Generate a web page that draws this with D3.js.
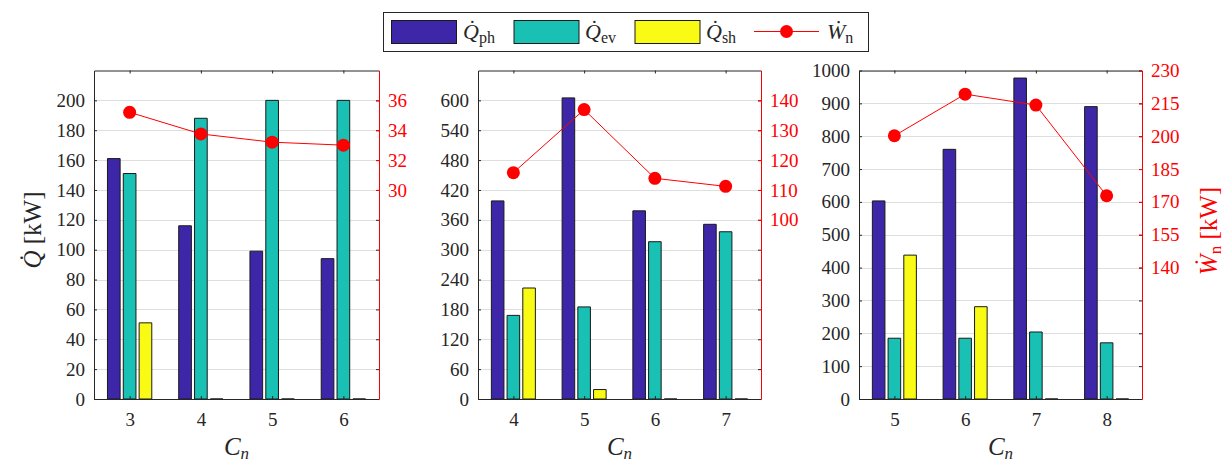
<!DOCTYPE html>
<html><head><meta charset="utf-8">
<script src="https://cdn.jsdelivr.net/npm/d3@7"></script>
<style>
body{margin:0;background:#fff}
svg text{font-family:"Liberation Serif","Times New Roman",Times,"DejaVu Serif","Noto Serif",serif !important}
</style>
</head><body>
<svg id="c" width="1226" height="463"></svg>
<script>
// ---------- data ----------
const cats1 = [3, 4, 5, 6];
const cats2 = [4, 5, 6, 7];
const cats3 = [5, 6, 7, 8];

const qph1 = [161, 116, 99, 94];
const qev1 = [151, 188, 200, 200];
const qsh1 = [51, 0, 0, 0];
const wn1  = [35.2, 33.75, 33.2, 33.0];

const qph2 = [398, 605, 378, 351];
const qev2 = [168, 185, 316, 336];
const qsh2 = [223, 19, 0, 0];
const wn2  = [115.8, 136.9, 113.9, 111.2];

const qph3 = [603, 760, 977, 890];
const qev3 = [185, 185, 204, 171];
const qsh3 = [438, 281, 0, 0];
const wn3  = [200.2, 219.2, 214.2, 172.8];

const leftTicks1  = [0, 20, 40, 60, 80, 100, 120, 140, 160, 180, 200];
const rightTicks1 = [30, 32, 34, 36];
const leftTicks2  = [0, 60, 120, 180, 240, 300, 360, 420, 480, 540, 600];
const rightTicks2 = [100, 110, 120, 130, 140];
const leftTicks3  = [0, 100, 200, 300, 400, 500, 600, 700, 800, 900, 1000];
const rightTicks3 = [140, 155, 170, 185, 200, 215, 230];

const leftDom1 = [0, 220],  rightDom1 = [16, 38];
const leftDom2 = [0, 660],  rightDom2 = [40, 150];
const leftDom3 = [0, 1000], rightDom3 = [80, 230];

const seriesNames = ["ph", "ev", "sh"];
const seriesColors = ["#3e26a8", "#19c0b4", "#f9fb15"];
const lineColor = "#ff0000";

// ---------- layout ----------
const FONT = "'Liberation Serif','Times New Roman',Times,'DejaVu Serif','Noto Serif',serif";
const svg = d3.select("#c");
const plotTop = 70.5, plotBottom = 399;
const panels = [
  {x0: 94,  x1: 379,  cats: cats1, q: [qph1, qev1, qsh1], wn: wn1, lt: leftTicks1, rt: rightTicks1, ld: leftDom1, rd: rightDom1},
  {x0: 478, x1: 761,  cats: cats2, q: [qph2, qev2, qsh2], wn: wn2, lt: leftTicks2, rt: rightTicks2, ld: leftDom2, rd: rightDom2},
  {x0: 859, x1: 1142, cats: cats3, q: [qph3, qev3, qsh3], wn: wn3, lt: leftTicks3, rt: rightTicks3, ld: leftDom3, rd: rightDom3}
];
const dark = "#262626";
const tickFont = 19;

panels.forEach((p) => {
  const g = svg.append("g");
  const x = d3.scaleLinear().domain([p.cats[0] - 0.5, p.cats[p.cats.length - 1] + 0.5]).range([p.x0, p.x1]);
  const yL = d3.scaleLinear().domain(p.ld).range([plotBottom, plotTop]);
  const yR = d3.scaleLinear().domain(p.rd).range([plotBottom, plotTop]);

  // grid
  g.append("g").selectAll("line").data(p.lt.filter(v => v > 0)).join("line")
    .attr("x1", p.x0).attr("x2", p.x1)
    .attr("y1", d => Math.round(yL(d)) + 0.5).attr("y2", d => Math.round(yL(d)) + 0.5)
    .attr("stroke", "#dedede").attr("stroke-width", 1);

  // bars
  const groupW = 2 / 3, step = groupW / 3, bw = step * 0.8;
  p.q.forEach((vals, si) => {
    g.append("g").selectAll("path").data(vals).join("path")
      .attr("d", (v, i) => {
        const c = p.cats[i] + (si - 1) * step;
        const xa = x(c - bw / 2), xb = x(c + bw / 2);
        const y0 = yL(0), y1 = yL(v);
        return `M${xa},${y0}L${xa},${y1}L${xb},${y1}L${xb},${y0}Z`;
      })
      .attr("fill", seriesColors[si]).attr("stroke", "#1a1a1a").attr("stroke-width", 1);
  });

  // axes
  const styleAxis = (sel, color) => {
    sel.attr("font-size", tickFont).attr("font-family", FONT);
    sel.selectAll("text").attr("fill", color);
    sel.selectAll("line").attr("stroke", color);
    sel.select(".domain").attr("stroke", color);
  };
  const ax1 = g.append("g").attr("transform", `translate(0,${plotBottom})`)
    .call(d3.axisBottom(x).tickValues(p.cats).tickSize(-3).tickSizeOuter(0).tickPadding(14).tickFormat(d3.format("d")));
  styleAxis(ax1, dark);
  const ax2 = g.append("g").attr("transform", `translate(0,${plotTop})`)
    .call(d3.axisTop(x).tickValues(p.cats).tickSize(-3).tickSizeOuter(0).tickFormat(""));
  styleAxis(ax2, dark);
  const ax3 = g.append("g").attr("transform", `translate(${p.x0},0)`)
    .call(d3.axisLeft(yL).tickValues(p.lt).tickSize(-3).tickSizeOuter(0).tickPadding(9).tickFormat(d3.format("d")));
  styleAxis(ax3, dark);
  const ax4 = g.append("g").attr("transform", `translate(${p.x1},0)`)
    .call(d3.axisRight(yL).tickValues(p.lt).tickSize(-3).tickSizeOuter(0).tickFormat(""));
  styleAxis(ax4, dark);
  ax4.select(".domain").remove();
  const ax5 = g.append("g").attr("transform", `translate(${p.x1},0)`)
    .call(d3.axisRight(yR).tickValues(p.rt).tickSize(-3).tickSizeOuter(0).tickPadding(9).tickFormat(d3.format("d")));
  styleAxis(ax5, lineColor);

  // line + markers
  const line = d3.line().x((d, i) => x(p.cats[i])).y(d => yR(d));
  g.append("path").datum(p.wn).attr("d", line).attr("fill", "none").attr("stroke", lineColor).attr("stroke-width", 1);
  g.append("g").selectAll("circle").data(p.wn).join("circle")
    .attr("cx", (d, i) => x(p.cats[i])).attr("cy", d => yR(d)).attr("r", 6.5).attr("fill", lineColor);

  // x label
  const xl = g.append("text").attr("x", (p.x0 + p.x1) / 2).attr("y", 455).attr("text-anchor", "middle")
    .attr("font-size", 25).attr("font-family", FONT).attr("fill", dark);
  xl.append("tspan").attr("font-style", "italic").text("C");
  xl.append("tspan").attr("font-style", "italic").attr("font-size", 17).attr("dy", 4).text("n");
});

// left y label
const yl = svg.append("text").attr("transform", "translate(41,230) rotate(-90)").attr("text-anchor", "middle")
  .attr("font-size", 25).attr("font-family", FONT).attr("fill", dark);
yl.append("tspan").attr("font-style", "italic").text("Q\u0307");
yl.append("tspan").text(" [kW]");

// right y label
const yr = svg.append("text").attr("transform", "translate(1217,231) rotate(-90)").attr("text-anchor", "middle")
  .attr("font-size", 25).attr("font-family", FONT).attr("fill", lineColor);
yr.append("tspan").attr("font-style", "italic").text("W\u0307");
yr.append("tspan").attr("font-size", 17).attr("dy", 4).text("n");
yr.append("tspan").attr("dy", -4).text(" [kW]");

// legend
const lg = svg.append("g");
lg.append("rect").attr("x", 383.5).attr("y", 12.5).attr("width", 485).attr("height", 39)
  .attr("fill", "#fff").attr("stroke", dark).attr("stroke-width", 1);
const swX = [391, 513.5, 634.5];
const txX = [463, 585, 706];
seriesNames.forEach((n, i) => {
  lg.append("rect").attr("x", swX[i] + 0.5).attr("y", 20.5).attr("width", 65).attr("height", 23)
    .attr("fill", seriesColors[i]).attr("stroke", "#1a1a1a").attr("stroke-width", 1);
  const t = lg.append("text").attr("x", txX[i]).attr("y", 39).attr("font-size", 22).attr("font-family", FONT).attr("fill", dark);
  t.append("tspan").attr("font-style", "italic").text("Q\u0307");
  t.append("tspan").attr("font-size", 16).attr("dy", 4).text(n);
});
lg.append("line").attr("x1", 754).attr("x2", 819).attr("y1", 31.5).attr("y2", 31.5).attr("stroke", lineColor).attr("stroke-width", 1);
lg.append("circle").attr("cx", 786.5).attr("cy", 31.5).attr("r", 6.5).attr("fill", lineColor);
const wt = lg.append("text").attr("x", 827).attr("y", 39).attr("font-size", 22).attr("font-family", FONT).attr("fill", dark);
wt.append("tspan").attr("font-style", "italic").text("W\u0307");
wt.append("tspan").attr("font-size", 16).attr("dy", 4).text("n");
</script>
</body></html>
